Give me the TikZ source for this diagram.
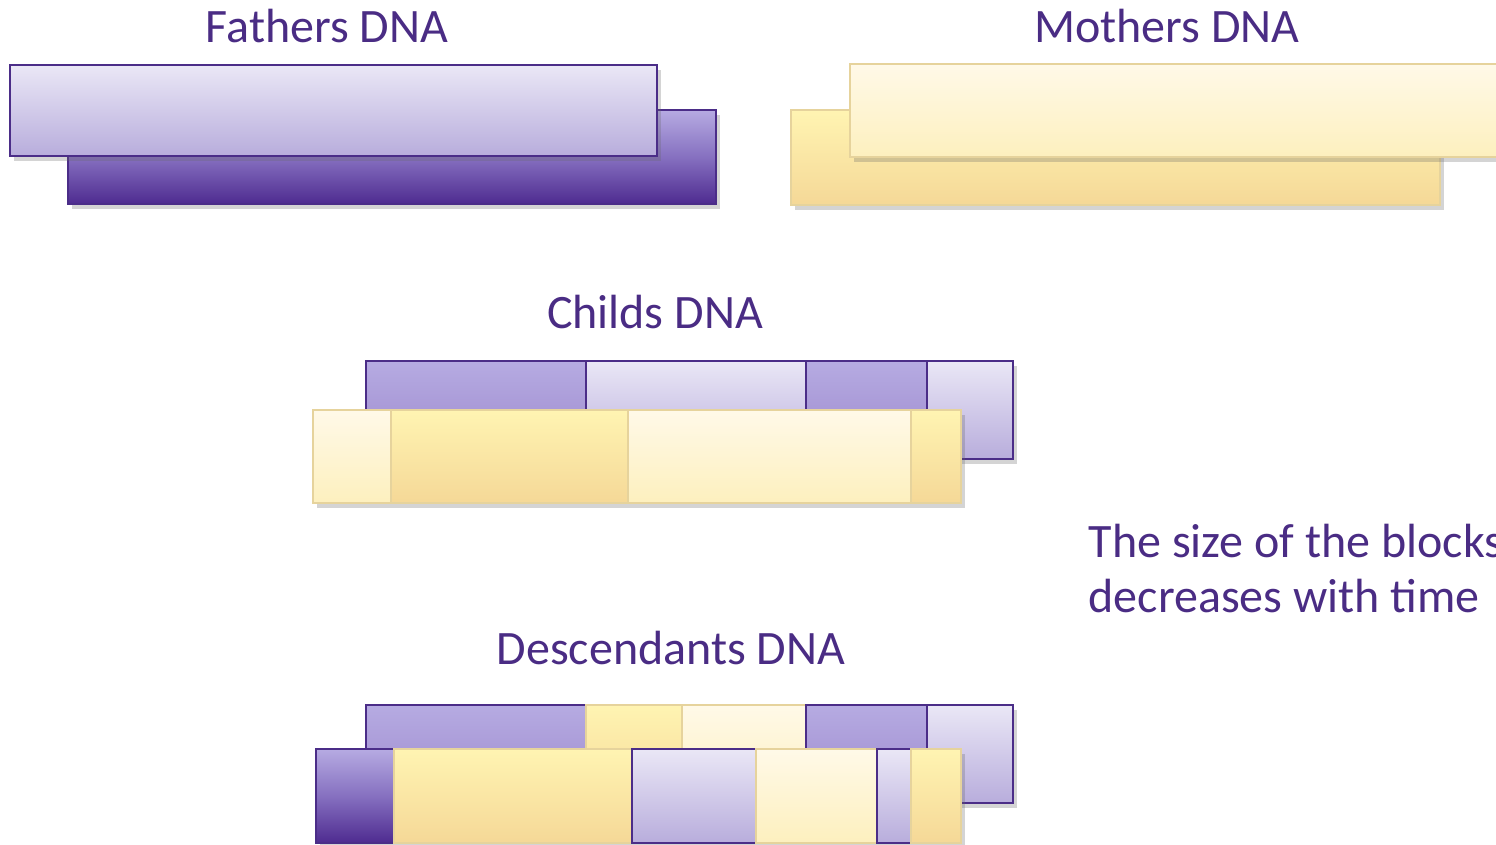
\documentclass[tikz,border=0pt]{standalone}
\usepackage{fontspec}
\setmainfont{Carlito}
\usetikzlibrary{shadows}

\definecolor{dnatext}{HTML}{4A2C84}
\definecolor{purpleline}{HTML}{4B2D88}
\definecolor{yellowline}{HTML}{E6D39C}
\definecolor{HTML-B6ABE2}{HTML}{B6ABE2}
\definecolor{HTML-4E2B90}{HTML}{4E2B90}
\definecolor{HTML-8670C0}{HTML}{8670C0}
\definecolor{HTML-9C88CC}{HTML}{9C88CC}
\definecolor{HTML-EAE7F6}{HTML}{EAE7F6}
\definecolor{HTML-B8ADDC}{HTML}{B8ADDC}
\definecolor{HTML-FFF4B2}{HTML}{FFF4B2}
\definecolor{HTML-F5D897}{HTML}{F5D897}
\definecolor{HTML-FFF9E8}{HTML}{FFF9E8}
\definecolor{HTML-FDF0BE}{HTML}{FDF0BE}

\tikzset{
  dnablock/.style={line width=0.6pt, drop shadow={shadow xshift=1.1pt, shadow yshift=-1.3pt, opacity=0.28, fill=black!60}},
  darkpurple/.style={dnablock, draw=purpleline, top color=HTML-B6ABE2, bottom color=HTML-4E2B90, middle color=HTML-8670C0},
  midpurple/.style={dnablock, draw=purpleline, top color=HTML-B6ABE2, bottom color=HTML-9C88CC},
  lightpurple/.style={dnablock, draw=purpleline, top color=HTML-EAE7F6, bottom color=HTML-B8ADDC},
  darkyellow/.style={dnablock, line width=0.5pt, draw=yellowline, top color=HTML-FFF4B2, bottom color=HTML-F5D897},
  lightyellow/.style={dnablock, line width=0.5pt, draw=yellowline, top color=HTML-FFF9E8, bottom color=HTML-FDF0BE},
  dnatitle/.style={text=dnatext, font=\fontsize{13.65}{16.4}\selectfont, anchor=base, inner sep=0pt}
}

\begin{document}
\begin{tikzpicture}[x=0.01cm, y=-0.01cm]
  \useasboundingbox (0,0) rectangle (1496,845);
  \clip (0,0) rectangle (1496,845);

  % parents
  \node[dnatitle] (father) at (327,42) {Fathers DNA};
  \node[dnatitle] (mother) at (1167,42) {Mothers DNA};
  \draw[darkpurple] (68,110) rectangle (716,204);
  \draw[lightpurple] (10,65) rectangle (657,156);
  \draw[darkyellow] (791,110) rectangle (1440,205);
  \draw[lightyellow] (850,64) rectangle (1520,157);

  % child
  \node[dnatitle] (child) at (655,328) {Childs DNA};
  \draw[midpurple] (366,361) rectangle (586,459);
  \draw[lightpurple] (586,361) rectangle (806,459);
  \draw[midpurple] (806,361) rectangle (927,459);
  \draw[lightpurple] (927,361) rectangle (1013,459);
  \draw[lightyellow] (313,410) rectangle (391,503);
  \draw[darkyellow] (391,410) rectangle (628,503);
  \draw[lightyellow] (628,410) rectangle (911,503);
  \draw[darkyellow] (911,410) rectangle (961,503);

  % descendants
  \node[dnatitle] (descendant) at (671,664) {Descendants DNA};
  \draw[midpurple] (366,705) rectangle (586,803);
  \draw[darkyellow] (586,705) rectangle (682,803);
  \draw[lightyellow] (682,705) rectangle (806,803);
  \draw[midpurple] (806,705) rectangle (927,803);
  \draw[lightpurple] (927,705) rectangle (1013,803);
  \draw[darkpurple] (316,749) rectangle (394,843);
  \draw[darkyellow] (394,749) rectangle (632,843);
  \draw[lightpurple] (632,749) rectangle (756,843);
  \draw[lightyellow] (756,749) rectangle (877,843);
  \draw[lightpurple] (877,749) rectangle (911,843);
  \draw[darkyellow] (911,749) rectangle (961,843);

  % note
  \node[dnatitle, anchor=base west] (note1) at (1088,557) {The size of the blocks};
  \node[dnatitle, anchor=base west] (note2) at (1088,612) {decreases with time};
\end{tikzpicture}
\end{document}
